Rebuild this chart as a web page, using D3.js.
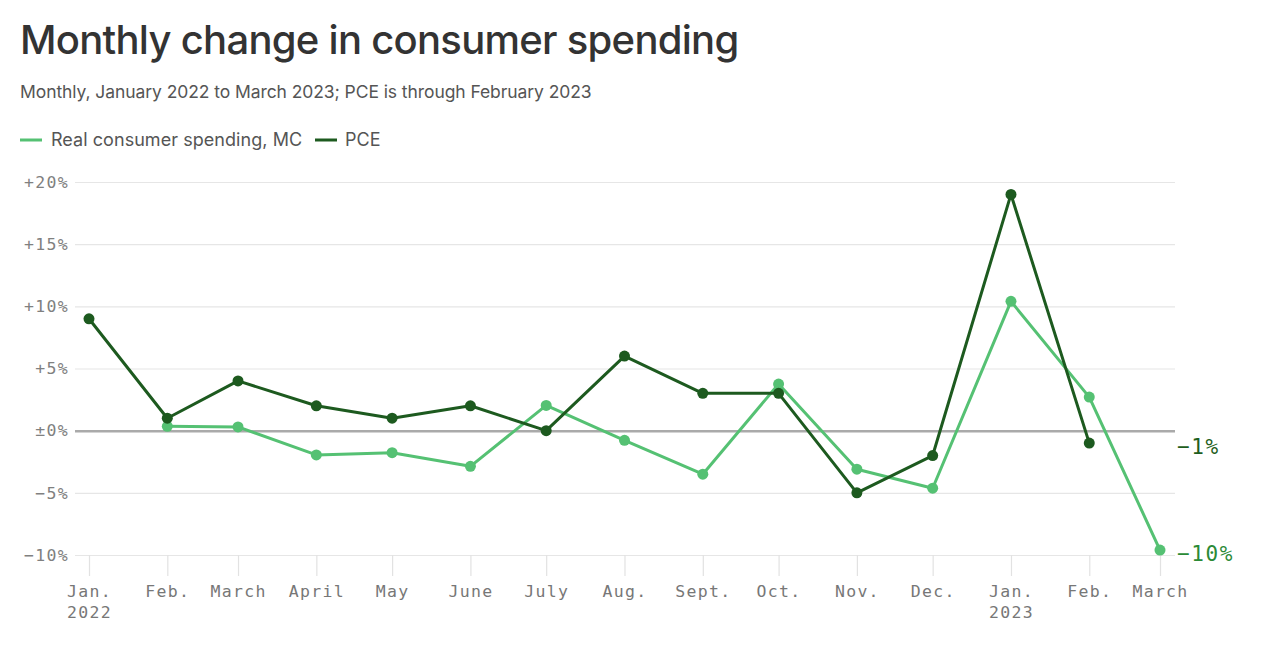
<!DOCTYPE html>
<html>
<head>
<meta charset="utf-8">
<script src="https://cdn.jsdelivr.net/npm/d3@7"></script>
<style>
  html, body { margin: 0; padding: 0; background: #fff; }
  svg { display: block; }
</style>
</head>
<body>
<svg id="chart" width="1280" height="645"></svg>
<script>
// ---- data ----
const months = ["2022-01-01","2022-02-01","2022-03-01","2022-04-01","2022-05-01","2022-06-01","2022-07-01","2022-08-01","2022-09-01","2022-10-01","2022-11-01","2022-12-01","2023-01-01","2023-02-01","2023-03-01"];
const monthLabels = ["Jan.","Feb.","March","April","May","June","July","Aug.","Sept.","Oct.","Nov.","Dec.","Jan.","Feb.","March"];
const yearLabels = ["2022","","","","","","","","","","","","2023","",""];
const realMC = [null, 0.35, 0.3, -1.95, -1.77, -2.87, 2.03, -0.78, -3.5, 3.75, -3.1, -4.63, 10.4, 2.7, -9.6];
const pce = [9.0, 1.0, 4.0, 2.0, 1.0, 2.0, 0.0, 6.0, 3.0, 3.0, -5.0, -2.0, 19.0, -1.0, null];
const yTicks = [-10, -5, 0, 5, 10, 15, 20];
const yTickLabels = ["\u221210%", "\u22125%", "\u00b10%", "+5%", "+10%", "+15%", "+20%"];
const endLabels = [
  {series: "pce", text: "\u22121%", value: -1.0},
  {series: "mc", text: "\u221210%", value: -9.6}
];

// ---- setup ----
const svg = d3.select("#chart");
const parse = d3.utcParse("%Y-%m-%d");
const dates = months.map(parse);
const colMC = "#55c173";
const colPCE = "#1d5a1f";
const mono = "'DejaVu Sans Mono', 'Liberation Mono', monospace";
const sans = "Inter, 'Noto Sans', Roboto, sans-serif";

const x = d3.scaleUtc().domain([dates[0], dates[dates.length - 1]]).range([89, 1160]);
const y = d3.scaleLinear().domain([-10, 20]).range([555, 182]);

// title, subtitle
svg.append("text").attr("x", 20).attr("y", 54)
  .attr("font-family", sans).attr("font-size", 40).attr("font-weight", 500)
  .attr("fill", "#333").attr("letter-spacing", -0.72)
  .text("Monthly change in consumer spending");
svg.append("text").attr("x", 20).attr("y", 98)
  .attr("font-family", sans).attr("font-size", 17.5)
  .attr("fill", "#555").attr("letter-spacing", -0.08)
  .text("Monthly, January 2022 to March 2023; PCE is through February 2023");

// legend
const legend = svg.append("g").attr("font-family", sans).attr("font-size", 18).attr("fill", "#555");
legend.append("line").attr("x1", 20).attr("x2", 42).attr("y1", 140).attr("y2", 140)
  .attr("stroke", colMC).attr("stroke-width", 3);
legend.append("text").attr("x", 51).attr("y", 146).attr("letter-spacing", 0.05).text("Real consumer spending, MC");
legend.append("line").attr("x1", 315).attr("x2", 337).attr("y1", 140).attr("y2", 140)
  .attr("stroke", colPCE).attr("stroke-width", 3);
legend.append("text").attr("x", 345).attr("y", 146).attr("letter-spacing", 0.05).text("PCE");

// y grid & labels
const yAxis = d3.axisLeft(y).tickValues(yTicks)
  .tickSize(-(1175 - 75))
  .tickFormat((d, i) => yTickLabels[i]);
const gy = svg.append("g").attr("transform", "translate(75,0)").call(yAxis);
gy.select(".domain").remove();
gy.selectAll(".tick line").attr("stroke", d => d === 0 ? "#aaa" : "#e6e6e6")
  .attr("stroke-width", d => d === 0 ? 2.5 : 1.2);
gy.selectAll(".tick text").attr("x", -6).attr("font-family", mono).attr("font-size", 16.5)
  .attr("fill", "#808080").attr("letter-spacing", 1.3);

// x ticks & labels
const xAxis = d3.axisBottom(x).tickValues(dates).tickSize(21).tickPadding(0)
  .tickFormat(() => "");
const gx = svg.append("g").attr("transform", "translate(0,555)").call(xAxis);
gx.select(".domain").remove();
gx.selectAll(".tick line").attr("stroke", "#e2e2e2").attr("stroke-width", 1.2);
gx.selectAll(".tick").each(function(d, i) {
  const t = d3.select(this).append("text").attr("fill", "#777")
    .attr("font-family", mono).attr("font-size", 16.5).attr("letter-spacing", 1.3)
    .attr("text-anchor", "middle");
  t.append("tspan").attr("x", 0).attr("y", 42).text(monthLabels[i]);
  if (yearLabels[i]) t.append("tspan").attr("x", 0).attr("y", 63).text(yearLabels[i]);
});

// lines
function drawSeries(vals, color) {
  const data = vals.map((v, i) => ({d: dates[i], v})).filter(p => p.v !== null);
  const line = d3.line().x(p => x(p.d)).y(p => y(p.v));
  svg.append("path").datum(data).attr("d", line)
    .attr("fill", "none").attr("stroke", color).attr("stroke-width", 3)
    .attr("stroke-linejoin", "round");
  svg.append("g").selectAll("circle").data(data).join("circle")
    .attr("cx", p => x(p.d)).attr("cy", p => y(p.v)).attr("r", 5.5).attr("fill", color);
}
drawSeries(realMC, colMC);
drawSeries(pce, colPCE);

// end labels
const endColors = {pce: "#1e5e20", mc: "#2b8a36"};
svg.append("g").selectAll("text").data(endLabels).join("text")
  .attr("x", 1177).attr("y", d => y(d.value) + 11)
  .attr("font-family", mono).attr("font-size", 21).attr("letter-spacing", 1.6)
  .attr("fill", d => endColors[d.series]).text(d => d.text);
</script>
</body>
</html>
